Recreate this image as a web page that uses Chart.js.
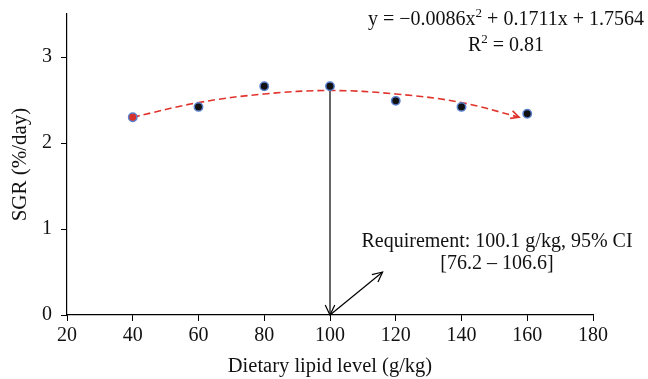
<!DOCTYPE html>
<html>
<head>
<meta charset="utf-8">
<script src="https://cdn.jsdelivr.net/npm/chart.js@4.4.1/dist/chart.umd.min.js"></script>
<style>
  html, body { margin: 0; padding: 0; background: #fff; }
  #wrap { width: 648px; height: 379px; }
</style>
</head>
<body>
<div id="wrap"><canvas id="sgrChart"></canvas></div>
<script>
// data
const lipidLevels = [40, 60, 80, 100, 120, 140, 160];
const sgrValues = [2.30, 2.42, 2.66, 2.66, 2.49, 2.42, 2.34];
const fitLevels = [40, 60, 80, 100, 120, 140, 157.5];
const fitValues = [2.30, 2.47, 2.57, 2.61, 2.57, 2.47, 2.30];
const xTicks = [20, 40, 60, 80, 100, 120, 140, 160, 180];
const yTicks = [0, 1, 2, 3];
const requirementX = 100;
const requirementTop = 2.66;
const pointerTip = [116, 0.5];

const serif = "'Liberation Serif', 'DejaVu Serif', serif";

function arrowHead(ctx, x1, y1, x2, y2, size) {
    const a = Math.atan2(y2 - y1, x2 - x1);
    ctx.beginPath();
    ctx.moveTo(x2 - size * Math.cos(a - 0.45), y2 - size * Math.sin(a - 0.45));
    ctx.lineTo(x2, y2);
    ctx.lineTo(x2 - size * Math.cos(a + 0.45), y2 - size * Math.sin(a + 0.45));
    ctx.stroke();
}

function supText(ctx, parts, cx, y) {
    // parts: [normal, sup, normal]
    const big = '20px ' + serif, small = '13px ' + serif;
    ctx.font = big;
    const w0 = ctx.measureText(parts[0]).width, w2 = ctx.measureText(parts[2]).width;
    ctx.font = small;
    const w1 = ctx.measureText(parts[1]).width;
    let x = cx - (w0 + w1 + w2) / 2;
    ctx.font = big; ctx.fillText(parts[0], x, y);
    ctx.font = small; ctx.fillText(parts[1], x + w0, y - 8);
    ctx.font = big; ctx.fillText(parts[2], x + w0 + w1, y);
}

const annotations = {
    id: 'annotations',
    beforeDatasetsDraw(chart) {
        const ctx = chart.ctx;
        const xs = chart.scales.x, ys = chart.scales.y;
        const x0 = xs.getPixelForValue(requirementX);
        const yTop = ys.getPixelForValue(requirementTop);
        const yBot = ys.getPixelForValue(0);
        ctx.save();
        ctx.strokeStyle = '#000';
        ctx.lineWidth = 1.2;
        ctx.beginPath();
        ctx.moveTo(x0, yTop);
        ctx.lineTo(x0, yBot);
        ctx.stroke();
        arrowHead(ctx, x0, yTop, x0, yBot, 11);
        const tx = xs.getPixelForValue(pointerTip[0]);
        const ty = ys.getPixelForValue(pointerTip[1]);
        ctx.beginPath();
        ctx.moveTo(x0, yBot);
        ctx.lineTo(tx, ty);
        ctx.stroke();
        arrowHead(ctx, x0, yBot, tx, ty, 11);
        ctx.restore();
    },
    afterDatasetsDraw(chart) {
        const ctx = chart.ctx;
        const pts = chart.getDatasetMeta(1).data;
        const p2 = pts[pts.length - 1];
        ctx.save();
        ctx.strokeStyle = '#e0332b';
        ctx.lineWidth = 1.6;
        arrowHead(ctx, p2.x - 12, p2.y - 4, p2.x, p2.y, 9);

        ctx.fillStyle = '#111';
        ctx.textAlign = 'left';
        ctx.textBaseline = 'alphabetic';
        supText(ctx, ['y = \u22120.0086x', '2', ' + 0.1711x + 1.7564'], 506, 25);
        supText(ctx, ['R', '2', ' = 0.81'], 506, 51);

        ctx.font = '20px ' + serif;
        ctx.textAlign = 'center';
        ctx.fillText('Requirement: 100.1 g/kg, 95% CI', 497, 247);
        ctx.fillText('[76.2 \u2013 106.6]', 497, 269);
        ctx.restore();
    }
};

new Chart(document.getElementById('sgrChart'), {
    type: 'scatter',
    data: {
        datasets: [
            {
                label: 'SGR',
                data: lipidLevels.map((v, i) => ({x: v, y: sgrValues[i]})),
                backgroundColor: lipidLevels.map((v, i) => i === 0 ? '#d8312a' : '#111'),
                borderColor: '#5a80cc',
                borderWidth: 1.5,
                pointRadius: 4.2,
                pointHoverRadius: 4.2,
                order: 0
            },
            {
                label: 'Fit',
                type: 'line',
                data: fitLevels.map((v, i) => ({x: v, y: fitValues[i]})),
                borderColor: '#e0332b',
                borderWidth: 1.6,
                borderDash: [7, 4],
                pointRadius: 0,
                tension: 0.4,
                fill: false,
                order: 1
            }
        ]
    },
    options: {
        responsive: true,
        maintainAspectRatio: false,
        animation: false,
        layout: {padding: {top: 14, right: 55, left: 0, bottom: 0}},
        plugins: {legend: {display: false}, tooltip: {enabled: false}},
        scales: {
            x: {
                type: 'linear',
                min: 20,
                max: 180,
                afterBuildTicks: s => { s.ticks = xTicks.map(v => ({value: v})); },
                afterFit: s => { s.height = 64; s.paddingLeft = 0; s.paddingRight = 0; },
                grid: {drawOnChartArea: false, drawTicks: true, tickLength: 6, color: '#000'},
                border: {color: '#000', width: 1.2},
                ticks: {color: '#111', font: {family: serif, size: 20}, padding: 3, maxRotation: 0},
                title: {display: true, text: 'Dietary lipid level (g/kg)', color: '#111',
                        font: {family: serif, size: 20.5}, padding: {top: 0, bottom: 0}}
            },
            y: {
                type: 'linear',
                min: 0,
                max: 3.5,
                afterBuildTicks: s => { s.ticks = yTicks.map(v => ({value: v})); },
                afterFit: s => { s.width = 67; s.paddingTop = 0; s.paddingBottom = 0; },
                grid: {drawOnChartArea: false, drawTicks: true, tickLength: 6, color: '#000'},
                border: {color: '#000', width: 1.2},
                ticks: {color: '#111', font: {family: serif, size: 20}, padding: 9},
                title: {display: true, text: 'SGR (%/day)', color: '#111',
                        font: {family: serif, size: 21}, padding: {top: 8, bottom: 0}}
            }
        }
    },
    plugins: [annotations]
});
</script>
</body>
</html>
